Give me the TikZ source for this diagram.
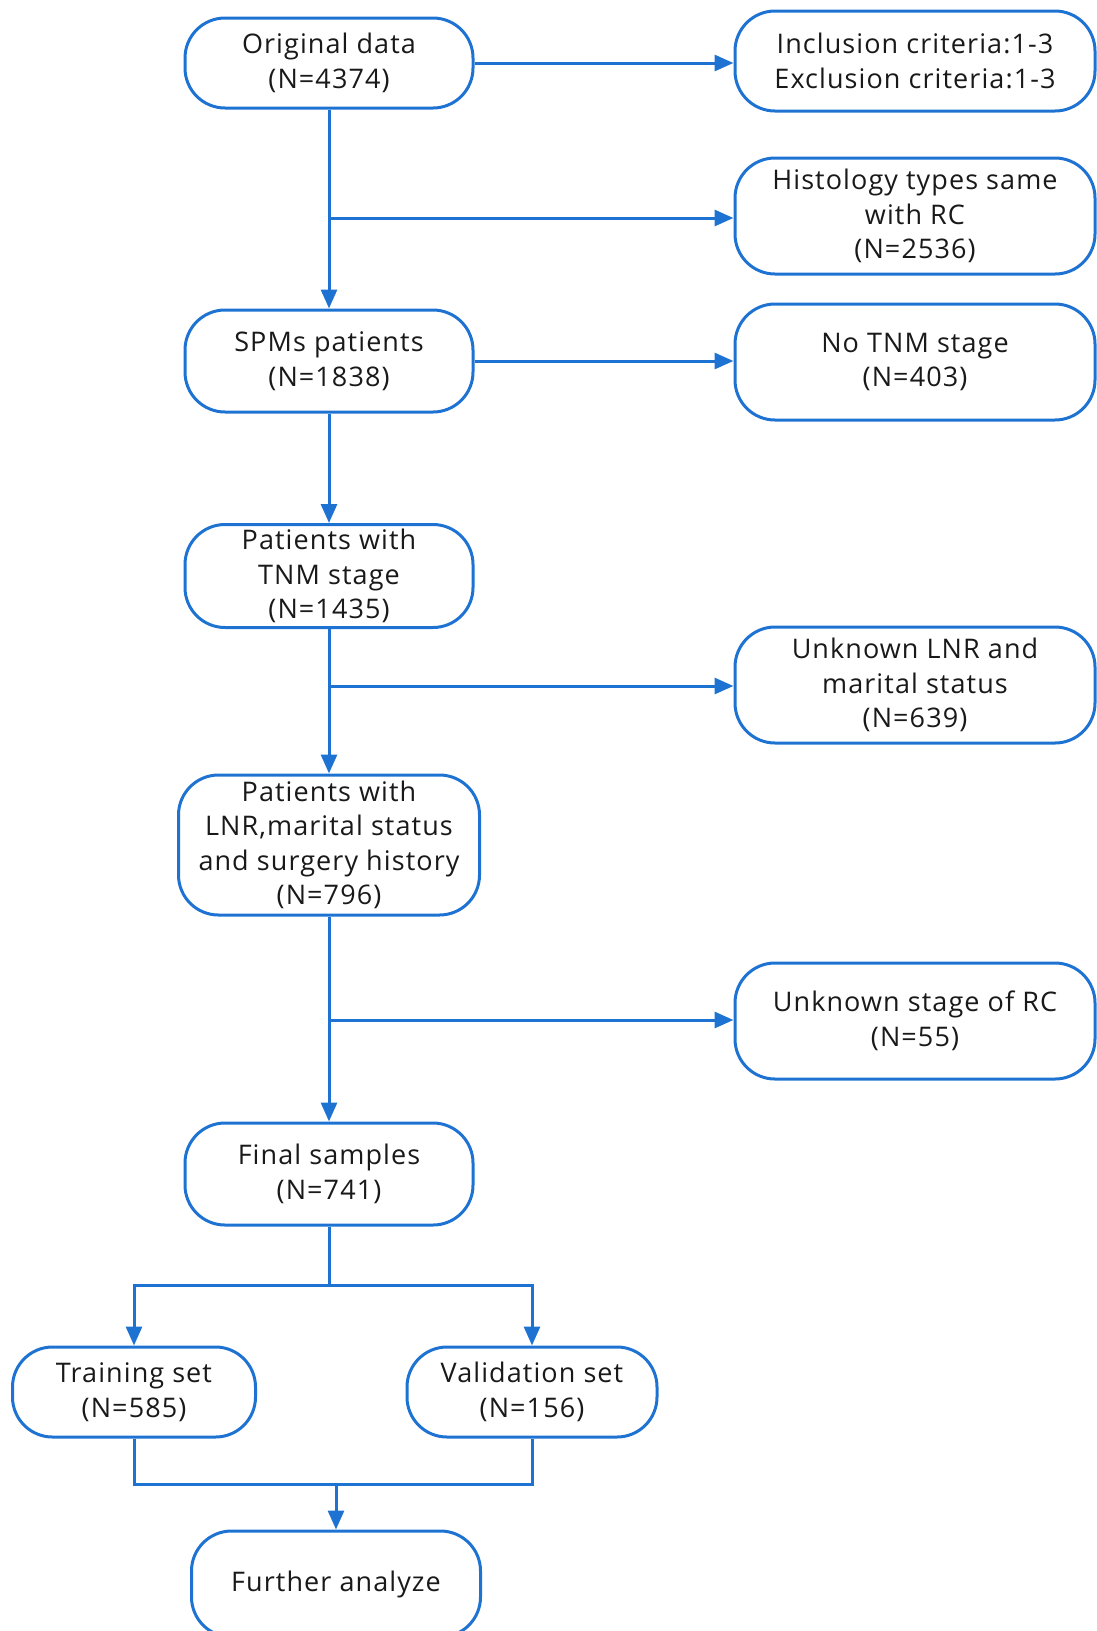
\documentclass[tikz,border=0pt]{standalone}
\usepackage{fontspec}
\setmainfont[LetterSpace=4]{Open Sans}
\usetikzlibrary{arrows.meta,calc}
\definecolor{flowblue}{RGB}{30,115,210}
\definecolor{txt}{RGB}{25,25,25}
\begin{document}
\begin{tikzpicture}[x=1pt,y=-1pt,
  box/.style={draw=flowblue,line width=3pt,rounded corners=40pt,align=center,
    text=txt,font=\fontsize{27}{34.5}\selectfont,inner sep=0pt},
  conn/.style={draw=flowblue,line width=3pt},
  arr/.style={conn,-{Triangle[length=19pt,width=16pt]}}]
\useasboundingbox (0,0) rectangle (1097,1631);
\begin{scope}
\clip (0,0) rectangle (1097,1631);
\node[box,minimum width=288pt,minimum height=90pt] (orig) at (329,63) {Original data\\(N=4374)};
\node[box,minimum width=360pt,minimum height=100pt] (incl) at (915,61) {Inclusion criteria:1-3\\Exclusion criteria:1-3};
\node[box,minimum width=360pt,minimum height=116pt] (hist) at (915,216) {Histology types same\\with RC\\(N=2536)};
\node[box,minimum width=288pt,minimum height=102pt] (spms) at (329,361) {SPMs patients\\(N=1838)};
\node[box,minimum width=360pt,minimum height=116pt] (notnm) at (915,362) {No TNM stage\\(N=403)};
\node[box,minimum width=288pt,minimum height=103pt] (tnm) at (329,576) {Patients with\\TNM stage\\(N=1435)};
\node[box,minimum width=360pt,minimum height=116pt] (unklnr) at (915,685) {Unknown LNR and\\marital status\\(N=639)};
\node[box,minimum width=301pt,minimum height=140pt] (lnr) at (329,845) {Patients with\\LNR,marital status\\and surgery history\\(N=796)};
\node[box,minimum width=360pt,minimum height=116pt] (unkstage) at (915,1021) {Unknown stage of RC\\(N=55)};
\node[box,minimum width=288pt,minimum height=102pt] (final) at (329,1174) {Final samples\\(N=741)};
\node[box,minimum width=243pt,minimum height=90pt] (train) at (134,1392) {Training set\\(N=585)};
\node[box,minimum width=250pt,minimum height=90pt] (valid) at (532,1392) {Validation set\\(N=156)};
\node[box,minimum width=289pt,minimum height=106pt] (further) at (336,1584) {Further analyze};
\end{scope}
\coordinate (b1) at (329,218);
\coordinate (b2) at (329,686);
\coordinate (b3) at (329,1020);
\coordinate (split) at (329,1285);
\coordinate (merge) at (336,1484);
\draw[arr] (orig.east) -- (orig.east -| incl.west);
\draw[arr] (orig.south) -- (spms.north);
\draw[arr] (b1) -- (b1 -| hist.west);
\draw[arr] (spms.east) -- (spms.east -| notnm.west);
\draw[arr] (spms.south) -- (tnm.north);
\draw[arr] (tnm.south) -- (lnr.north);
\draw[arr] (b2) -- (b2 -| unklnr.west);
\draw[arr] (lnr.south) -- (final.north);
\draw[arr] (b3) -- (b3 -| unkstage.west);
\draw[conn] (final.south) -- (split);
\draw[arr] (split) -| (train.north);
\draw[arr] (split) -| (valid.north);
\draw[conn] (train.south) |- (merge);
\draw[conn] (valid.south) |- (merge);
\draw[arr] (merge) -- (further.north);
\end{tikzpicture}
\end{document}
